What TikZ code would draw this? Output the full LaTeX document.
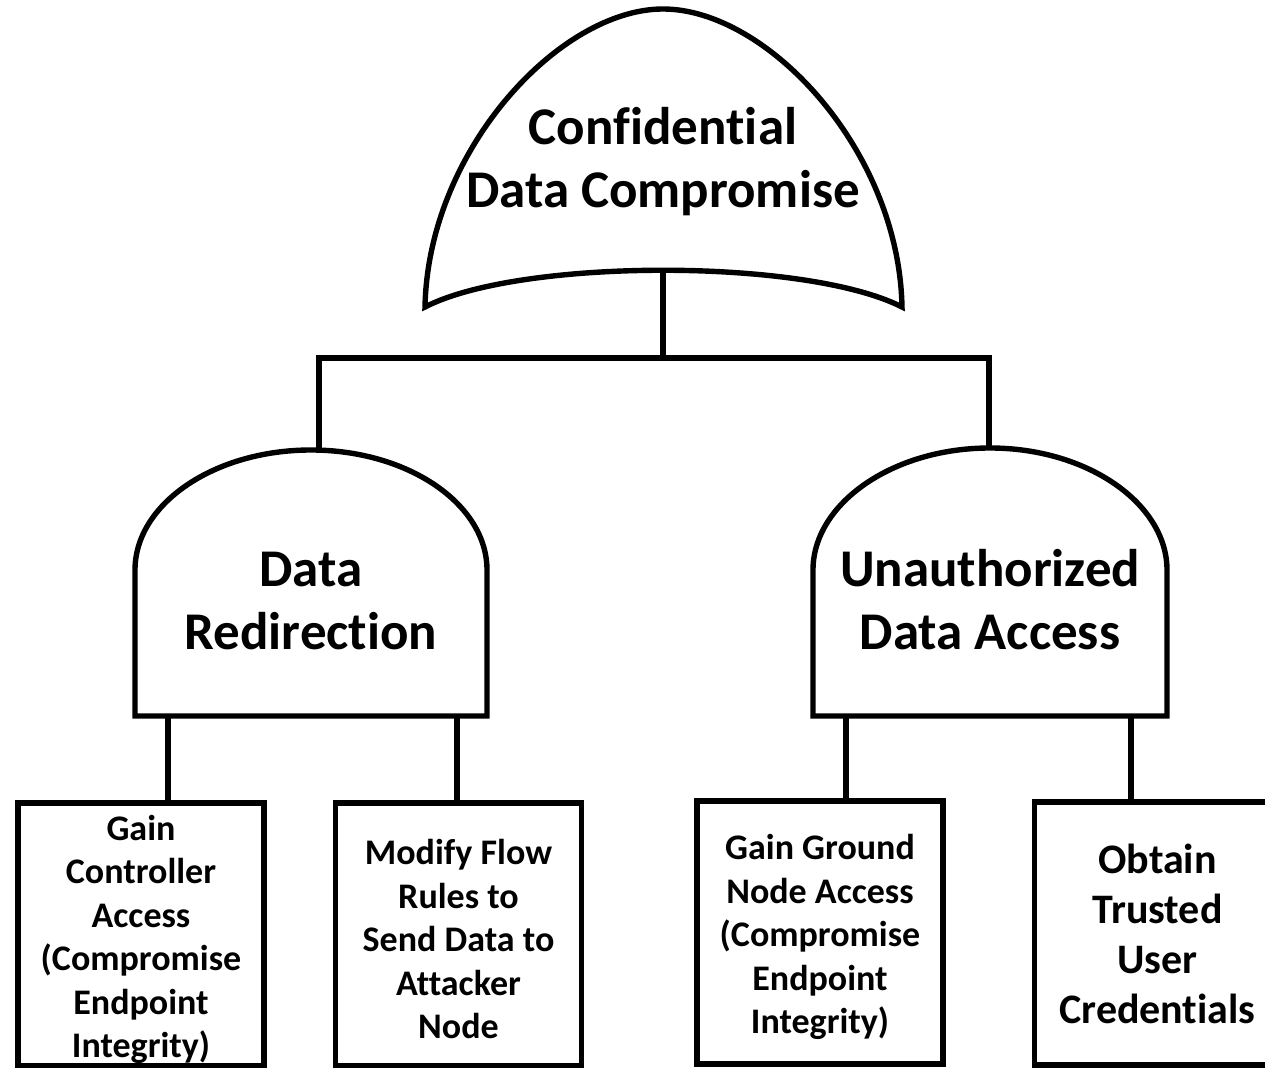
\documentclass[tikz,border=0pt]{standalone}
\usepackage{fontspec}
\setmainfont{Carlito}[Ligatures=NoCommon,Contextuals=NoAlternate]

\newcommand{\leafstrut}{\rule{0pt}{17.5pt}}

\tikzset{
  gate/.style={line width=2.7pt},
  wire/.style={line width=2.9pt},
  gatelabel/.style={align=center, font=\bfseries\fontsize{26.5}{31.5}\selectfont},
  leaf/.style={draw, line width=2.9pt, minimum width=123pt, minimum height=131.5pt,
    inner sep=0pt, align=center, font=\bfseries\fontsize{18}{21.75}\selectfont},
}

\begin{document}
\begin{tikzpicture}[x=0.5pt,y=-0.5pt]
  \useasboundingbox (0,0) rectangle (1265,1068);

  % OR gate
  \draw[gate] (425,307) .. controls (428,150) and (560,9) .. (663,9)
    .. controls (767,9) and (899,150) .. (902,307)
    .. controls (806,258) and (520,258) .. cycle;
  \node[gatelabel] (compromise) at (663,162) {Confidential\\Data Compromise};
  \coordinate (orOut) at (663,270);
  \coordinate (bus) at (663,358);

  % AND gates
  \draw[gate] (135,716) -- (135,570) .. controls (135,504) and (214,450) .. (311,450)
    .. controls (408,450) and (487,504) .. (487,570) -- (487,716) -- cycle;
  \node[gatelabel] (redirect) at (311,601) {Data\\Redirection};
  \coordinate (redirIn) at (319,450);
  \coordinate (redirL) at (168,716);
  \coordinate (redirR) at (457,716);

  \draw[gate] (813,716) -- (813,570) .. controls (813,504) and (892,448) .. (990,448)
    .. controls (1088,448) and (1167,504) .. (1167,570) -- (1167,716) -- cycle;
  \node[gatelabel] (access) at (990,600) {Unauthorized\\Data Access};
  \coordinate (accessIn) at (989,448);
  \coordinate (accessL) at (846,716);
  \coordinate (accessR) at (1131,716);

  % connectors between gates
  \draw[wire] (orOut) -- (bus);
  \draw[wire] (redirIn) |- (bus) -| (accessIn);

  % basic events
  \node[leaf] (ctrl) at (141,934.5) {\leafstrut Gain\\Controller\\Access\\(Compromise\\Endpoint\\Integrity)};
  \node[leaf] (flow) at (458.5,934.5) {\leafstrut Modify Flow\\Rules to\\Send Data to\\Attacker\\Node};
  \node[leaf] (ground) at (820,932.5) {\leafstrut Gain Ground\\Node Access\\(Compromise\\Endpoint\\Integrity)};
  \node[leaf, font=\bfseries\fontsize{21}{25}\selectfont] (creds) at (1157.5,933.5)
    {Obtain\\Trusted\\User\\Credentials};

  \draw[wire] (redirL) -- (redirL |- ctrl.north);
  \draw[wire] (redirR) -- (redirR |- flow.north);
  \draw[wire] (accessL) -- (accessL |- ground.north);
  \draw[wire] (accessR) -- (accessR |- creds.north);
\end{tikzpicture}
\end{document}
